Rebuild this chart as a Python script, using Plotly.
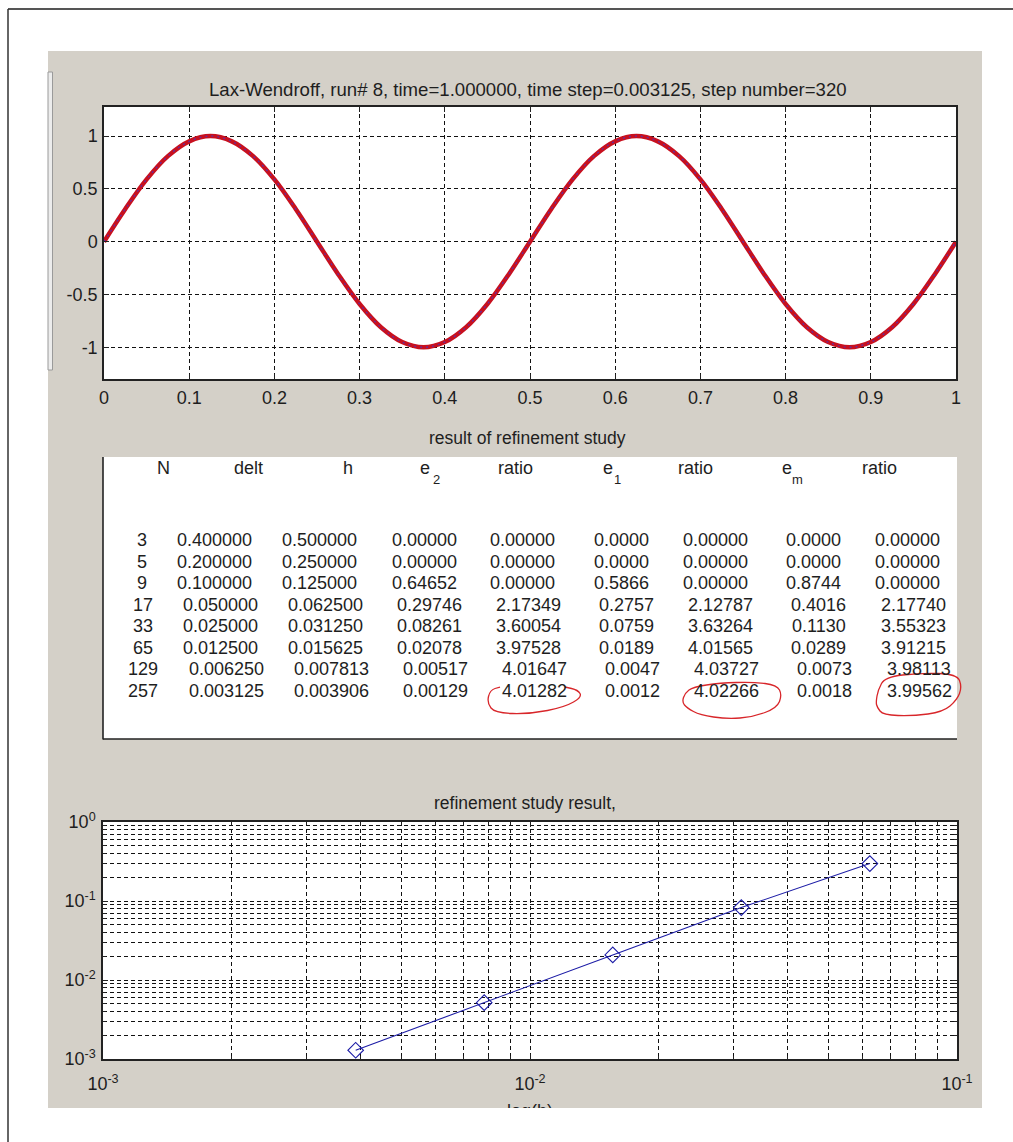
import plotly.graph_objects as go

W, H = 1013, 1142
FONT = "Liberation Sans, Arial, sans-serif"
INK = "#1e1e1e"
PANEL = "#D4D0C8"

# ---- solution profile u(x, t=1) ----
wave_x = [0.0, 0.025, 0.05, 0.075, 0.1, 0.125, 0.15, 0.175, 0.2, 0.225,
          0.25, 0.275, 0.3, 0.325, 0.35, 0.375, 0.4, 0.425, 0.45, 0.475,
          0.5, 0.525, 0.55, 0.575, 0.6, 0.625, 0.65, 0.675, 0.7, 0.725,
          0.75, 0.775, 0.8, 0.825, 0.85, 0.875, 0.9, 0.925, 0.95, 0.975, 1.0]
wave_u = [0.00, 0.31, 0.59, 0.81, 0.95, 1.00, 0.95, 0.81, 0.59, 0.31,
          0.00, -0.31, -0.59, -0.81, -0.95, -1.00, -0.95, -0.81, -0.59, -0.31,
          0.00, 0.31, 0.59, 0.81, 0.95, 1.00, 0.95, 0.81, 0.59, 0.31,
          0.00, -0.31, -0.59, -0.81, -0.95, -1.00, -0.95, -0.81, -0.59, -0.31, 0.00]
top_xticks = [0, 0.1, 0.2, 0.3, 0.4, 0.5, 0.6, 0.7, 0.8, 0.9, 1]
top_xticktext = ["0", "0.1", "0.2", "0.3", "0.4", "0.5", "0.6", "0.7", "0.8", "0.9", "1"]
top_yticks = [-1, -0.5, 0, 0.5, 1]
top_yticktext = ["-1", "-0.5", "0", "0.5", "1"]

# ---- refinement study table ----
N_pts = [3, 5, 9, 17, 33, 65, 129, 257]
delt = [0.4, 0.2, 0.1, 0.05, 0.025, 0.0125, 0.00625, 0.003125]
h = [0.5, 0.25, 0.125, 0.0625, 0.03125, 0.015625, 0.007813, 0.003906]
e2 = [0.0, 0.0, 0.64652, 0.29746, 0.08261, 0.02078, 0.00517, 0.00129]
ratio2 = [0.0, 0.0, 0.0, 2.17349, 3.60054, 3.97528, 4.01647, 4.01282]
e1 = [0.0, 0.0, 0.5866, 0.2757, 0.0759, 0.0189, 0.0047, 0.0012]
ratio1 = [0.0, 0.0, 0.0, 2.12787, 3.63264, 4.01565, 4.03727, 4.02266]
em = [0.0, 0.0, 0.8744, 0.4016, 0.1130, 0.0289, 0.0073, 0.0018]
ratiom = [0.0, 0.0, 0.0, 2.17740, 3.55323, 3.91215, 3.98113, 3.99562]

# ---- log-log axis ticks ----
log_x_decades = [0.001, 0.01, 0.1]
log_x_labels = ["10<sup>-3</sup>", "10<sup>-2</sup>", "10<sup>-1</sup>"]
log_y_decades = [0.001, 0.01, 0.1, 1]
log_y_labels = ["10<sup>-3</sup>", "10<sup>-2</sup>", "10<sup>-1</sup>", "10<sup>0</sup>"]


def px(x):
    return x / W


def py(y):
    return 1 - y / H


def minor_log(decades):
    vals = []
    for d in decades[:-1]:
        for m in range(2, 10):
            vals.append(m * d)
    return vals


fig = go.Figure()

# top panel: numerical solution
fig.add_trace(go.Scatter(x=wave_x, y=wave_u, mode="lines",
                         line=dict(color="#c8101e", width=4.5, shape="spline"),
                         xaxis="x", yaxis="y", hoverinfo="skip"))
fig.add_trace(go.Scatter(x=wave_x, y=wave_u, mode="lines",
                         line=dict(color="#6a2a9a", width=1.4, shape="spline", dash="2px,4px"),
                         xaxis="x", yaxis="y", hoverinfo="skip"))

# bottom panel: e2 against h for the refined runs
sel = [i for i in range(len(N_pts)) if ratio2[i] > 0]
fig.add_trace(go.Scatter(x=[h[i] for i in sel], y=[e2[i] for i in sel],
                         mode="lines+markers",
                         line=dict(color="#1c1ca6", width=1.1),
                         marker=dict(symbol="diamond-open", size=12,
                                     color="#1c1ca6", line=dict(width=1.1)),
                         xaxis="x2", yaxis="y2", hoverinfo="skip"))

# partially hidden x-axis label at the panel edge
fig.add_trace(go.Scatter(x=[530], y=[1112], mode="text", text=["log(h)"],
                         textfont=dict(family=FONT, size=18, color=INK),
                         cliponaxis=True, xaxis="x3", yaxis="y3", hoverinfo="skip"))

grid_dash = "4px,3px"
common_axis = dict(showline=True, mirror="ticks", linecolor="#222", linewidth=1.5,
                   ticks="inside", tickcolor="#222", ticklen=5, automargin=False,
                   showgrid=True, gridcolor="#111", gridwidth=1, griddash=grid_dash,
                   zeroline=False, tickfont=dict(family=FONT, size=18, color=INK))

fig.update_layout(
    width=W, height=H, autosize=False,
    margin=dict(l=0, r=0, t=0, b=0, pad=0, autoexpand=False),
    paper_bgcolor="white", plot_bgcolor="rgba(0,0,0,0)",
    showlegend=False,
    xaxis=dict(domain=[px(104), px(956)], range=[0, 1], anchor="y",
               tickmode="array", tickvals=top_xticks, ticktext=top_xticktext,
               ticklabelstandoff=2, **common_axis),
    yaxis=dict(domain=[py(379), py(107)], range=[-1.3, 1.275], anchor="x",
               tickmode="array", tickvals=top_yticks, ticktext=top_yticktext,
               ticklabelstandoff=1, **common_axis),
    xaxis2=dict(domain=[px(103), px(957)], type="log", range=[-3, -1], anchor="y2",
                tickmode="array", tickvals=log_x_decades, ticktext=log_x_labels,
                ticklabelstandoff=8,
                minor=dict(tickmode="array", tickvals=minor_log(log_x_decades),
                           ticks="inside", ticklen=3, tickcolor="#222",
                           showgrid=True, gridcolor="#111", gridwidth=1, griddash=grid_dash),
                **common_axis),
    yaxis2=dict(domain=[py(1059), py(822)], type="log", range=[-3, 0], anchor="x2",
                tickmode="array", tickvals=log_y_decades, ticktext=log_y_labels,
                ticklabelstandoff=2,
                minor=dict(tickmode="array", tickvals=minor_log(log_y_decades),
                           ticks="inside", ticklen=3, tickcolor="#222",
                           showgrid=True, gridcolor="#111", gridwidth=1, griddash=grid_dash),
                **common_axis),
    xaxis3=dict(domain=[px(400), px(660)], range=[400, 660], visible=False,
                anchor="y3", automargin=False),
    yaxis3=dict(domain=[py(1108), py(1088)], range=[1108, 1088], visible=False,
                anchor="x3", automargin=False),
)

shapes = []


def rect(x0, y0, x1, y1, fill, line=None, lw=0, layer="below"):
    shapes.append(dict(type="rect", xref="paper", yref="paper",
                       x0=px(x0), x1=px(x1), y0=py(y1), y1=py(y0),
                       fillcolor=fill, line=dict(color=line or fill, width=lw), layer=layer))


def seg(x0, y0, x1, y1, color, width, layer="below"):
    shapes.append(dict(type="line", xref="paper", yref="paper",
                       x0=px(x0), x1=px(x1), y0=py(y0), y1=py(y1),
                       line=dict(color=color, width=width), layer=layer))


# figure window panel
rect(48, 51, 982, 1108, PANEL)
rect(104, 107, 956, 379, "white")
rect(103, 457, 957, 739, "white")
rect(103, 822, 957, 1059, "white")
seg(103, 457, 103, 739.5, "#222", 1.6)
seg(103, 739, 957, 739, "#222", 1.6)
# small docked control frame on the left
rect(48, 72, 52.5, 370, "#ececec", "#9a9a9a", 1)
# outer frame
seg(8, 9, 1013, 9, "#555", 2, layer="above")
seg(8, 9, 8, 1142, "#333", 1.5, layer="above")

annotations = []


def label(x, y, text, size=18, anchor="center", color=INK):
    annotations.append(dict(xref="paper", yref="paper", x=px(x), y=py(y),
                            text=text, showarrow=False, xanchor=anchor, yanchor="middle",
                            font=dict(family=FONT, size=size, color=color)))


label(528, 90, "Lax-Wendroff, run# 8, time=1.000000, time step=0.003125, step number=320", size=18.6)
label(527, 438, "result of refinement study", size=17.5)
label(525, 803, "refinement study result,", size=17.5)

# table header
label(163, 468, "N")
label(248, 468, "delt")
label(348, 468, "h")
label(515, 468, "ratio")
label(695, 468, "ratio")
label(879, 468, "ratio")
for ex, sx, sub in [(425, 436, "2"), (608, 617, "1"), (787, 797.5, "m")]:
    label(ex, 468, "e")
    label(sx, 479, sub, size=13)

# table body
col_x = [214.5, 319.5, 424, 522.5, 621, 715, 813, 907.5]
col_fmt = ["%.6f", "%.6f", "%.5f", "%.5f", "%.4f", "%.5f", "%.4f", "%.5f"]
col_data = [delt, h, e2, ratio2, e1, ratio1, em, ratiom]
row_y0, row_dy, shift = 540, 21.5, 5.75
for r, n in enumerate(N_pts):
    y = row_y0 + r * row_dy
    off = (len(str(n)) - 1) * shift
    label(142 + 0.6 * (len(str(n)) - 1), y, str(n))
    for c in range(len(col_data)):
        label(col_x[c] + off, y, col_fmt[c] % col_data[c][r])


# hand-drawn loops around the last ratios
def loop_path(cx, cy, pts, closed=True):
    P = [(px(cx + dx), py(cy + dy)) for dx, dy in pts]
    if closed:
        P = P + [P[0]]
    mids = [((P[i][0] + P[i + 1][0]) / 2, (P[i][1] + P[i + 1][1]) / 2) for i in range(len(P) - 1)]
    if not closed:
        d = "M %.5f,%.5f L %.5f,%.5f" % (P[0][0], P[0][1], mids[0][0], mids[0][1])
        for i in range(1, len(P) - 1):
            d += " Q %.5f,%.5f %.5f,%.5f" % (P[i][0], P[i][1], mids[i][0], mids[i][1])
        d += " L %.5f,%.5f" % P[-1]
    else:
        d = "M %.5f,%.5f" % mids[-1]
        for i in range(len(mids)):
            d += " Q %.5f,%.5f %.5f,%.5f" % (P[i][0], P[i][1], mids[i][0], mids[i][1])
    return d


last_y = row_y0 + 7 * row_dy
last_off = 2 * shift
loops = [
    (col_x[3] + last_off, [(-34, -3.5), (-44, -0.5), (-47, 12.5), (-39, 22.5), (-4, 23.5),
                           (31, 16.5), (48, 6.5), (44, -0.5), (31, -3.5)], False),
    (col_x[5] + last_off, [(-44.5, 11.5), (-41.5, 2.5), (-33.5, -3.5), (-6.5, -7.5), (26.5, -8.5),
                           (50.5, -5.5), (55.5, 4.5), (50.5, 17.5), (26.5, 26.5), (0.5, 28.5),
                           (-26.5, 24.5), (-39.5, 17.5)], True),
    (col_x[7] + last_off, [(-43, 11.5), (-41, -0.5), (-34, -13.5), (1, -17.5), (38, -16.5),
                           (43, -3.5), (38, 9.5), (24, 21.5), (-6, 25.5), (-36, 24.5),
                           (-42, 16.5)], True),
]
for cx, pts, closed in loops:
    shapes.append(dict(type="path", xref="paper", yref="paper",
                       path=loop_path(cx, last_y, pts, closed),
                       line=dict(color="#d8262a", width=1.3), layer="above"))

fig.update_layout(shapes=shapes, annotations=annotations)
fig.write_html("out.html")
